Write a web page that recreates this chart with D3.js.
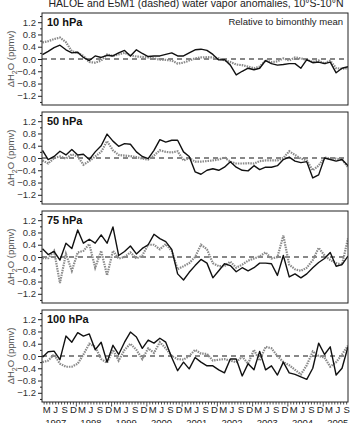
<!DOCTYPE html>
<html>
<head>
<meta charset="utf-8">
<script src="https://cdn.jsdelivr.net/npm/d3@7"></script>
<style>
body { margin: 0; background: #fff; }
text { font-family: "Liberation Sans", Arial, sans-serif; }
</style>
</head>
<body>
<svg id="chart" width="352" height="423"></svg>
<script>
const levels = ["10 hPa", "50 hPa", "75 hPa", "100 hPa"]

// bimonthly anomalies, ppmv, Jan 1997 .. Sep 2005
const haloe10 = [0.14,0.25,0.37,0.45,0.3,0.2,0.22,0.05,-0.05,0.1,0.05,0.12,0.1,0.2,0.28,0.1,0.3,0.18,0.08,0.1,0.1,0.15,0.2,0.1,0.1,0.2,0.3,0.32,0.28,0.15,-0.03,-0.02,-0.2,-0.52,-0.4,-0.3,-0.35,-0.3,-0.05,-0.15,-0.2,-0.18,-0.15,-0.15,-0.3,-0.02,-0.12,-0.1,-0.15,-0.1,-0.45,-0.3,-0.25]
const e5m1_10 = [0.54,0.58,0.65,0.7,0.55,0.25,0.2,0.1,-0.1,-0.12,-0.05,0.15,0.1,0.15,0.2,0.12,0.08,0.07,0.05,0.02,-0.02,-0.03,-0.05,-0.15,-0.12,-0.05,0.02,0.05,0.06,0.05,0.02,-0.04,-0.1,-0.18,-0.2,-0.25,-0.3,-0.25,-0.05,-0.1,-0.08,0.02,-0.05,0.05,0.02,-0.03,-0.1,-0.05,-0.15,-0.05,-0.3,-0.32,-0.3]

const haloe50 = [0.25,-0.05,0.05,0.22,0.1,0.28,0.1,0.12,-0.05,0.2,0.4,0.78,0.55,0.38,0.47,0.45,0.2,0.05,-0.02,0.25,0.6,0.52,0.58,0.58,0.2,0.05,-0.45,-0.53,-0.4,-0.35,-0.4,-0.3,-0.12,-0.3,-0.4,-0.42,-0.25,-0.38,-0.3,-0.3,-0.25,-0.05,0.03,-0.1,-0.15,-0.12,-0.65,-0.55,0.0,-0.05,-0.1,-0.05,-0.25]
const e5m1_50 = [-0.08,-0.18,0.0,0.05,-0.02,0.12,0.05,-0.22,-0.1,0.05,0.2,0.55,0.25,0.1,0.08,0.06,0.03,-0.02,-0.05,0.08,0.25,0.2,0.18,0.22,-0.08,0.0,-0.12,-0.12,-0.1,-0.08,-0.05,0.02,-0.12,-0.18,-0.18,-0.17,-0.18,-0.1,-0.08,-0.08,-0.08,0.0,0.22,0.1,-0.02,-0.08,-0.4,-0.25,0.02,-0.02,-0.02,-0.05,-0.3]

const haloe75 = [0.27,0.08,0.18,-0.1,0.45,0.28,0.88,0.45,0.58,0.45,0.72,0.45,0.98,0.05,0.18,0.36,0.1,0.28,0.4,0.74,0.6,0.5,0.25,-0.55,-0.75,-0.5,-0.28,-0.08,-0.2,-0.68,-0.45,-0.22,-0.28,-0.48,-0.35,-0.45,-0.35,-0.2,-0.2,-0.22,-0.6,0.05,-0.65,-0.55,-0.68,-0.55,-0.35,-0.18,-0.05,0.15,-0.3,-0.25,0.03]
const e5m1_75 = [-0.04,-0.04,0.2,-0.85,0.1,-0.45,0.15,0.2,0.42,-0.35,0.2,-0.6,0.2,-0.05,0.0,0.15,-0.05,0.05,0.4,0.4,0.25,0.42,0.2,-0.4,-0.3,-0.2,0.0,0.4,0.25,-0.2,-0.3,-0.3,-0.15,-0.35,-0.25,-0.12,-0.05,0.02,0.15,-0.05,0.0,0.7,-0.25,-0.4,-0.45,-0.35,-0.1,0.3,0.05,-0.1,-0.2,-0.25,0.6]

const haloe100 = [-0.04,0.14,0.16,-0.12,0.65,0.45,0.76,0.65,0.72,0.2,0.45,-0.2,0.35,0.05,0.45,0.78,0.62,0.25,0.52,0.42,0.58,0.45,-0.05,-0.48,-0.2,-0.42,-0.05,-0.2,-0.32,-0.32,-0.45,-0.55,-0.1,-0.1,-0.65,-0.25,-0.45,0.15,-0.45,-0.32,-0.62,-0.2,-0.55,-0.6,-0.68,-0.76,-0.4,0.42,0.05,0.3,-0.62,-0.4,0.3]
const e5m1_100 = [-0.2,-0.15,0.05,-0.25,-0.35,-0.35,-0.25,0.05,0.4,0.3,-0.1,-0.22,0.2,-0.15,0.2,0.4,0.2,-0.1,0.25,0.1,0.45,0.25,0.0,-0.1,-0.12,0.0,0.2,0.08,0.07,-0.15,-0.12,-0.1,-0.15,-0.2,-0.02,-0.25,0.2,-0.15,0.3,0.25,0.0,-0.2,-0.3,-0.45,-0.6,-0.3,0.15,0.0,-0.05,-0.35,-0.2,0.05,0.34]

const haloeSeries = [haloe10, haloe50, haloe75, haloe100]
const e5m1Series = [e5m1_10, e5m1_50, e5m1_75, e5m1_100]

const yTicks = [1.2, 0.8, 0.4, 0.0, -0.4, -0.8, -1.2]
const monthLetters = {2: "M", 5: "J", 8: "S", 11: "D"}
const yearLabels = ["1997", "1998", "1999", "2000", "2001", "2002", "2003", "2004", "2005"]

// bin centres, every 2 months from Jan 1997
const dates = haloe10.map((d, i) => new Date(1997, 2 * i, 15))

const svg = d3.select("#chart")
const left = 42, right = 348, panelH = 92, step = 99, top0 = 13

const x = d3.scaleTime()
            .domain([new Date(1997, 0, 10), new Date(2005, 8, 15)])
            .range([left, right])

svg.append("text")
   .attr("x", 196).attr("y", 7)
   .attr("text-anchor", "middle")
   .attr("font-size", 10.5)
   .attr("fill", "#222")
   .text("HALOE and E5M1 (dashed) water vapor anomalies, 10°S-10°N")

levels.forEach((lev, p) => {
  const top = top0 + p * step
  const y = d3.scaleLinear().domain([-1.5, 1.5]).range([top + panelH, top])
  const g = svg.append("g")

  g.append("clipPath").attr("id", "clip" + p)
   .append("rect").attr("x", left).attr("y", top).attr("width", right - left).attr("height", panelH)

  // y axis ticks
  const yAxis = d3.axisLeft(y).tickValues(yTicks).tickSize(4).tickPadding(2)
                  .tickFormat(d3.format(".1f"))
  const ax = g.append("g").attr("transform", `translate(${left},0)`).call(yAxis)
  ax.select(".domain").remove()
  ax.selectAll("text").attr("font-size", 9.5).attr("fill", "#333")
    .attr("font-family", "Liberation Sans, Arial, sans-serif")
  ax.selectAll("line").attr("stroke", "#222")
  const minor = d3.axisLeft(y).tickValues([1.4, 1.0, 0.6, 0.2, -0.2, -0.6, -1.0, -1.4])
                  .tickSize(2).tickFormat("")
  const mx = g.append("g").attr("transform", `translate(${left},0)`).call(minor)
  mx.select(".domain").remove()
  mx.selectAll("line").attr("stroke", "#222")

  // y title
  const yt = g.append("text")
    .attr("transform", `translate(14,${y(0)}) rotate(-90)`)
    .attr("text-anchor", "middle")
    .attr("font-size", 9.5)
    .attr("fill", "#555")
  yt.append("tspan").text("ΔH")
  yt.append("tspan").attr("font-size", 7).attr("dy", 3).text("2")
  yt.append("tspan").attr("dy", -3).text("O (ppmv)")

  // zero line
  g.append("line")
   .attr("x1", left).attr("x2", right)
   .attr("y1", y(0)).attr("y2", y(0))
   .attr("stroke", "#111").attr("stroke-width", 1)
   .attr("stroke-dasharray", "5,4")

  const line = d3.line().x((d, i) => x(dates[i])).y(d => y(d))

  g.append("path")
   .datum(e5m1Series[p])
   .attr("clip-path", `url(#clip${p})`)
   .attr("d", line)
   .attr("fill", "none")
   .attr("stroke", "#8a8a8a")
   .attr("stroke-width", 2.2)
   .attr("stroke-dasharray", "1.5,1")

  g.append("path")
   .datum(haloeSeries[p])
   .attr("clip-path", `url(#clip${p})`)
   .attr("d", line)
   .attr("fill", "none")
   .attr("stroke", "#111")
   .attr("stroke-width", 1.4)
   .attr("stroke-linejoin", "round")

  // frame
  g.append("rect")
   .attr("x", left).attr("y", top).attr("width", right - left).attr("height", panelH)
   .attr("fill", "none").attr("stroke", "#222").attr("stroke-width", 1)

  g.append("text")
   .attr("x", left + 5).attr("y", top + 13)
   .attr("font-size", 11).attr("font-weight", "bold")
   .attr("fill", "#111")
   .text(lev)

  if (p === 0) {
    g.append("text")
     .attr("x", right - 5).attr("y", top + 12)
     .attr("text-anchor", "end")
     .attr("font-size", 9.5)
     .attr("fill", "#222")
     .text("Relative to bimonthly mean")
  }

  if (p === levels.length - 1) {
    const yb = top + panelH
    const months = d3.timeMonth.range(new Date(1997, 1, 1), new Date(2005, 8, 16))
    g.selectAll(".mtick").data(months).enter().append("line")
     .attr("x1", d => x(d)).attr("x2", d => x(d))
     .attr("y1", yb).attr("y2", d => yb + (d.getMonth() === 0 ? 4.5 : 2.5))
     .attr("stroke", "#222").attr("stroke-width", 0.8)
    g.selectAll(".mlab").data(months.filter(d => monthLetters[d.getMonth()])).enter().append("text")
     .attr("x", d => x(d)).attr("y", yb + 11)
     .attr("text-anchor", "middle")
     .attr("font-size", 9.5)
     .attr("fill", "#222")
     .text(d => monthLetters[d.getMonth()])
    g.selectAll(".ylab").data(yearLabels).enter().append("text")
     .attr("x", d => x(new Date(+d, 5, 1))).attr("y", yb + 24)
     .attr("text-anchor", "middle")
     .attr("font-size", 9.5)
     .attr("fill", "#222")
     .text(d => d)
  }
})
</script>
</body>
</html>
